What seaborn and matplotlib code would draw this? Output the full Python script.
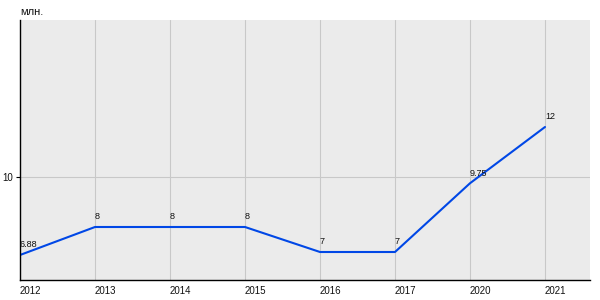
import matplotlib
matplotlib.use("Agg")
import matplotlib.pyplot as plt
import seaborn as sns
import pandas as pd

years = ["2012", "2013", "2014", "2015", "2016", "2017", "2020", "2021"]
values = [6.88, 8, 8, 8, 7, 7, 9.75, 12]
labels = ["6.88", "8", "8", "8", "7", "7", "9.75", "12"]
unit = "млн."

sns.set_theme(style="whitegrid")
plt.rcParams['font.family'] = ['Liberation Sans', 'DejaVu Sans']

df = pd.DataFrame({"year": years, "value": values})

fig = plt.figure(figsize=(6, 3), dpi=100)
ax = fig.add_axes([20/600, 20/300, 570/600, 260/300])
ax.set_facecolor("#EBEBEB")
sns.lineplot(data=df, x="year", y="value", ax=ax, color="#0047E6", linewidth=1.5)

for i, (v, t) in enumerate(zip(values, labels)):
    ax.annotate(t, (i, v), xytext=(0, 4), textcoords="offset points",
                ha="left", va="bottom", fontsize=6.5, color="#111111")

ax.set_xlim(0, 7.6)
ax.set_ylim(5.88, 16.28)
ax.set_yticks([10])
ax.set_xticks(range(len(years)))
ax.set_xticklabels(years)
ax.grid(True, color="#C8C8C8", linewidth=0.8)
ax.set_xlabel("")
ax.set_ylabel("")
for s in ["top", "right"]:
    ax.spines[s].set_visible(False)
for s in ["left", "bottom"]:
    ax.spines[s].set_visible(True)
    ax.spines[s].set_color("black")
    ax.spines[s].set_linewidth(1.0)
ax.tick_params(axis="both", labelsize=7, colors="#111111", length=3, width=0.8, pad=2)
ax.tick_params(axis="x", length=0, pad=4)
ax.tick_params(axis="y", left=True, color="black")
for lbl in ax.get_xticklabels():
    lbl.set_ha("left")
fig.text(20/600, 1 - 12/300, unit, fontsize=8, color="#111111", ha="left", va="center")

fig.savefig("out.png", dpi=100)
